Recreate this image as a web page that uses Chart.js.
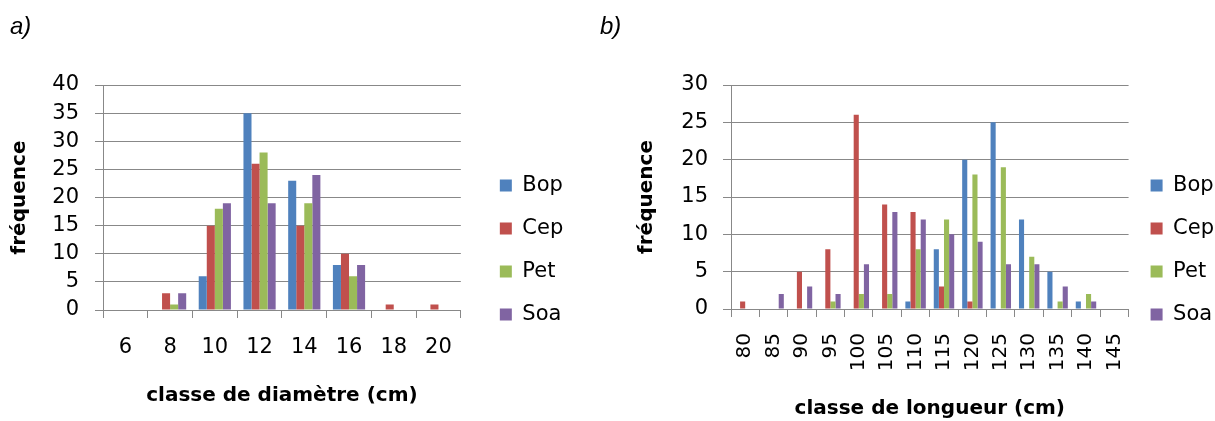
<!DOCTYPE html>
<html>
<head>
<meta charset="utf-8">
<script src="https://cdn.jsdelivr.net/npm/chart.js@4"></script>
<style>
	html, body { margin: 0; padding: 0; background: #fff; overflow: hidden; }
	#cajaA { position: absolute; left: 0; top: 0; width: 590px; height: 421px; }
	#cajaB { position: absolute; left: 590px; top: 0; width: 634px; height: 421px; }
</style>
</head>
<body>
<div id="cajaA"><canvas id="graficoA"></canvas></div>
<div id="cajaB"><canvas id="graficoB"></canvas></div>
<script>
// Especies y colores de la leyenda
const especies = ["Bop", "Cep", "Pet", "Soa"];
const colores = ["#4F81BD", "#C0504D", "#9BBB59", "#8064A2"];

// a) clases de diámetro
const diametros = ["6", "8", "10", "12", "14", "16", "18", "20"];
const diamBop = [0, 0, 6, 35, 23, 8, 0, 0];
const diamCep = [0, 3, 15, 26, 15, 10, 1, 1];
const diamPet = [0, 1, 18, 28, 19, 6, 0, 0];
const diamSoa = [0, 3, 19, 19, 24, 8, 0, 0];

// b) clases de longitud
const longueurs = ["80", "85", "90", "95", "100", "105", "110", "115", "120", "125", "130", "135", "140", "145"];
const longBop = [0, 0, 0, 0, 0, 0, 1, 8, 20, 25, 12, 5, 1, 0];
const longCep = [1, 0, 5, 8, 26, 14, 13, 3, 1, 0, 0, 0, 0, 0];
const longPet = [0, 0, 0, 1, 2, 2, 8, 12, 18, 19, 7, 1, 2, 0];
const longSoa = [0, 2, 3, 2, 6, 13, 12, 10, 9, 6, 6, 3, 1, 0];

const FAMILIA = "'DejaVu Sans', sans-serif";
const GRIS = "#888888";

const datasets = (series) =>
	series.map((datos, i) => ({
		label: especies[i],
		type: "bar",
		data: datos,
		backgroundColor: colores[i],
		borderColor: colores[i],
		borderWidth: 0,
		categoryPercentage: 0.72,
		barPercentage: 1,
		yAxisID: "y",
	}));

function grafico(id, cfg) {
	const ctx = document.getElementById(id);

	return new Chart(ctx, {
		data: {
			labels: cfg.etiquetas,
			datasets: datasets(cfg.series),
		},
		options: {
			responsive: true,
			maintainAspectRatio: false,
			animation: false,
			layout: {
				padding: { left: 10, right: cfg.margenDer, top: 0, bottom: 0 },
			},
			plugins: {
				title: {
					display: true,
					text: cfg.letra,
					align: "start",
					color: "#000",
					font: { family: "'Liberation Sans Narrow', 'Liberation Sans', sans-serif", size: 24, style: "italic", weight: "normal" },
					padding: { top: 12.6, bottom: 43.6 },
				},
				legend: {
					position: "right",
					align: "center",
					title: {
						display: true,
						text: " ",
						font: { size: 10, lineHeight: 1 },
						padding: { top: 69, bottom: 0 },
					},
					labels: {
						boxWidth: 12,
						boxHeight: 12,
						padding: 22,
						color: "#000",
						font: { family: FAMILIA, size: 21 },
					},
				},
				tooltip: { enabled: false },
			},
			scales: {
				x: {
					type: "category",
					offset: true,
					grid: { display: true, drawOnChartArea: false, offset: true, tickLength: 8, color: GRIS },
					border: { color: GRIS },
					ticks: {
						autoSkip: false,
						padding: cfg.xPadding,
						minRotation: cfg.rotacion,
						maxRotation: cfg.rotacion,
						color: "#000",
						font: { family: FAMILIA, size: cfg.xFuente },
					},
					title: {
						display: true,
						text: cfg.tituloX,
						color: "#000",
						font: { family: FAMILIA, size: 20, weight: "bold" },
						padding: cfg.tituloXPadding,
					},
				},
				y: {
					type: "linear",
					position: "left",
					min: 0,
					max: cfg.max,
					ticks: {
						stepSize: 5,
						autoSkip: false,
						padding: cfg.yPadding,
						color: "#000",
						font: { family: FAMILIA, size: 21 },
					},
					grid: { color: GRIS, tickLength: 8 },
					border: { color: GRIS },
					title: {
						display: true,
						text: "fréquence",
						color: "#000",
						font: { family: FAMILIA, size: 20, weight: "bold" },
						padding: { top: cfg.tituloYPadding, bottom: 0 },
					},
					afterFit: (escala) => {
						escala.width = cfg.anchoY;
					},
				},
				// eje vacío para separar la leyenda del área del gráfico
				hueco: {
					type: "linear",
					position: "right",
					display: true,
					grid: { display: false },
					border: { display: false },
					ticks: { display: false },
					afterFit: (escala) => {
						escala.width = cfg.hueco;
					},
				},
			},
		},
	});
}

grafico("graficoA", {
	letra: "a)",
	etiquetas: diametros,
	series: [diamBop, diamCep, diamPet, diamSoa],
	max: 40,
	margenDer: 18.6,
	hueco: 17,
	anchoY: 93,
	yPadding: 16,
	tituloYPadding: -2,
	xPadding: 17.4,
	xFuente: 21,
	rotacion: 0,
	tituloX: "classe de diamètre (cm)",
	tituloXPadding: { top: 6, bottom: 13 },
});

grafico("graficoB", {
	letra: "b)",
	etiquetas: longueurs,
	series: [longBop, longCep, longPet, longSoa],
	max: 30,
	margenDer: 0,
	hueco: 0,
	anchoY: 131,
	yPadding: 15,
	tituloYPadding: 35,
	xPadding: 16,
	xFuente: 20,
	rotacion: 90,
	tituloX: "classe de longueur (cm)",
	tituloXPadding: { top: 9.8, bottom: 0 },
});
</script>
</body>
</html>
